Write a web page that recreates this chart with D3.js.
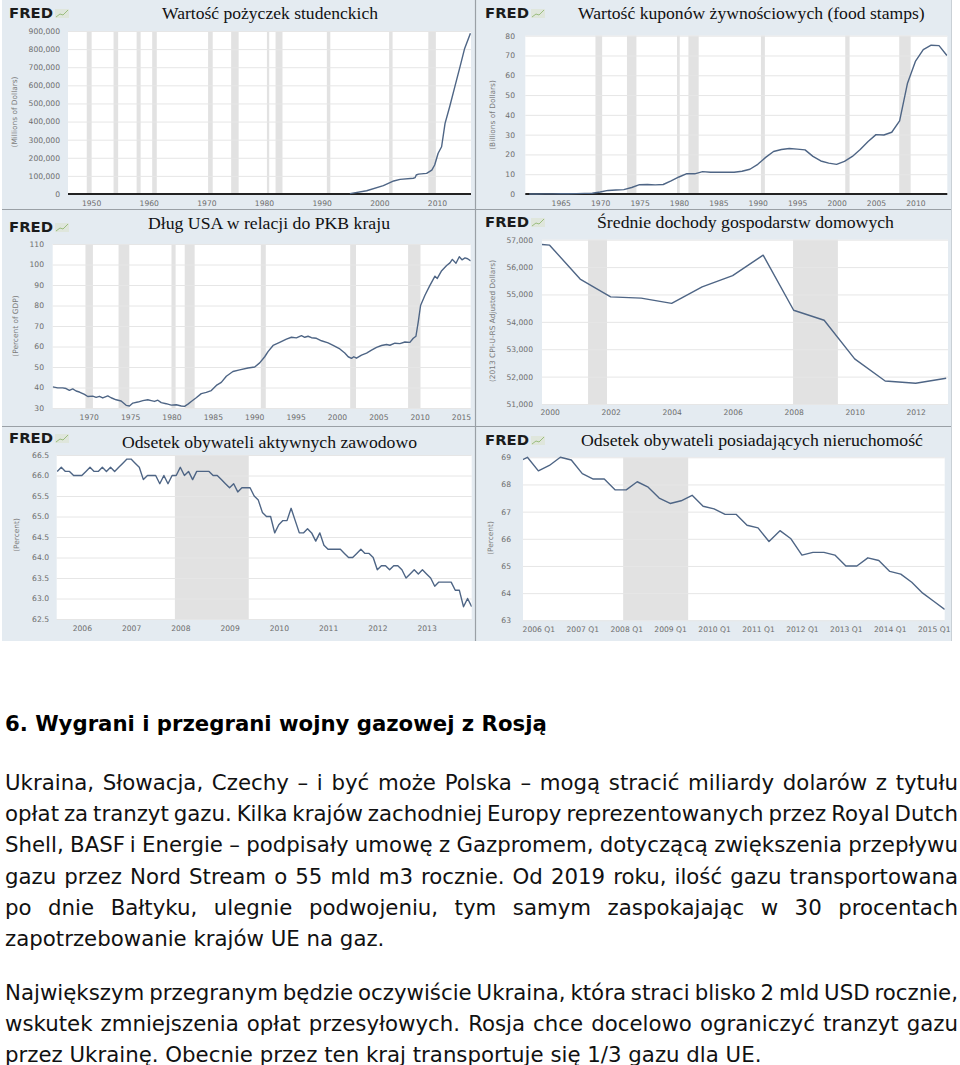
<!DOCTYPE html>
<html><head><meta charset="utf-8">
<script src="https://cdn.jsdelivr.net/npm/d3@7"></script>
<style>html,body{margin:0;padding:0;background:#fff;}svg{display:block;}</style>
</head><body>
<script>
// ---------------- DATA ----------------
const studentLoans = [[1994.9,2000],[1997.8,18000],[2000.7,46000],[2002.5,72000],[2003.6,81000],[2005.9,87000],[2006.2,90000],[2006.4,105000],[2006.8,110000],[2008.2,114000],[2009.1,132000],[2009.6,160000],[2010.2,225000],[2010.8,261000],[2011.4,390000],[2012.2,482000],[2013.1,593000],[2014.0,703000],[2014.8,804000],[2015.8,888000]];
const studentRecessions = [[1949.25,1950.1],[1953.9,1954.7],[1957.9,1958.6],[1960.6,1961.4],[1970.3,1971.1],[1974.3,1975.6],[1980.5,1980.9],[1982.0,1983.2],[1990.9,1991.5],[2001.7,2002.3],[2008.5,2009.8]];
const studentYTicks = [0,100000,200000,300000,400000,500000,600000,700000,800000,900000];
const studentXTicks = [1950,1960,1970,1980,1990,2000,2010];

const foodYears  = [1961,1962,1963,1964,1965,1966,1967,1968,1969,1970,1971,1972,1973,1974,1975,1976,1977,1978,1979,1980,1981,1982,1983,1984,1985,1986,1987,1988,1989,1990,1991,1992,1993,1994,1995,1996,1997,1998,1999,2000,2001,2002,2003,2004,2005,2006,2007,2008,2009,2010,2011,2012,2013,2014];
const foodValues = [0,0,0.05,0.05,0.1,0.1,0.2,0.3,0.4,1.0,1.8,2.0,2.2,3.3,4.7,4.8,4.6,4.8,6.6,8.6,10.3,10.2,11.3,11.0,11.0,11.0,11.0,11.5,12.5,15.0,18.5,21.5,22.5,23.0,22.7,22.3,19.0,16.7,15.6,15.0,16.5,19.0,22.5,26.5,30.0,29.8,31.2,37.0,56.0,67.0,73.0,75.2,75.0,70.0];
const foodRecessions = [[1969.4,1970.25],[1973.4,1974.6],[1979.75,1980.1],[1981.2,1982.5],[1990.4,1990.9],[2001.1,2001.65],[2007.95,2009.4]];
const foodYTicks = [0,10,20,30,40,50,60,70,80];
const foodXTicks = [1965,1970,1975,1980,1985,1990,1995,2000,2005,2010];

const debtGdp = [[1965.64,40.3],[1966.25,39.8],[1966.85,39.8],[1967.26,39.5],[1967.66,38.6],[1968.06,39.3],[1968.47,38.3],[1968.87,37.8],[1969.48,36.6],[1969.88,35.6],[1970.48,35.8],[1970.89,35.2],[1971.29,35.7],[1971.69,34.9],[1972.30,35.9],[1972.70,35.0],[1973.31,34.0],[1973.91,33.4],[1974.52,31.3],[1974.92,31.0],[1975.33,32.4],[1975.93,32.9],[1976.54,33.6],[1977.14,34.0],[1977.55,33.6],[1977.95,33.2],[1978.35,33.8],[1978.76,32.6],[1979.36,32.1],[1979.97,31.4],[1980.57,31.6],[1981.18,31.0],[1981.58,30.8],[1981.99,31.9],[1982.39,33.2],[1982.99,35.0],[1983.60,37.0],[1984.21,37.6],[1984.81,38.5],[1985.42,41.0],[1986.02,42.5],[1986.63,45.5],[1987.43,47.8],[1988.24,48.6],[1989.25,49.5],[1990.06,50.0],[1990.66,52.0],[1991.27,55.0],[1991.67,57.5],[1992.28,60.5],[1993.08,62.0],[1993.89,63.6],[1994.50,64.5],[1995.10,64.2],[1995.71,65.3],[1996.11,64.5],[1996.51,65.0],[1996.92,64.3],[1997.52,64.0],[1998.13,62.8],[1998.93,61.8],[1999.54,60.6],[2000.35,58.8],[2000.95,56.8],[2001.36,55.0],[2001.76,54.2],[2002.04,55.0],[2002.36,54.3],[2002.97,55.8],[2003.58,56.8],[2004.18,58.2],[2004.79,59.6],[2005.39,60.5],[2005.99,61.0],[2006.40,60.6],[2007.01,61.6],[2007.61,61.4],[2008.22,62.2],[2008.82,62.0],[2009.23,64.0],[2009.55,65.0],[2009.83,72.0],[2010.11,80.0],[2010.64,85.0],[2011.24,89.8],[2011.85,94.3],[2012.13,93.2],[2012.66,97.0],[2013.26,99.5],[2013.66,100.8],[2013.95,102.5],[2014.39,100.6],[2014.79,103.8],[2015.12,102.3],[2015.48,103.2],[2015.80,102.8],[2016.17,101.8]];
const debtRecessions = [[1969.6,1970.5],[1973.6,1974.9],[1980.0,1980.5],[1981.6,1982.8],[1990.8,1991.4],[2001.6,2002.3],[2008.6,2010.1]];
const debtYTicks = [30,40,50,60,70,80,90,100,110];
const debtXTicks = [1970,1975,1980,1985,1990,1995,2000,2005,2010,2015];

const incomeYears  = [1999,2000,2001,2002,2003,2004,2005,2006,2007,2008,2009,2010,2011,2012,2013];
const incomeValues = [56895,56800,55562,54913,54865,54674,55278,55689,56436,54423,54059,52646,51842,51759,51939];
const incomeRecessions = [[2001.26,2001.88],[2007.98,2009.45]];
const incomeYTicks = [51000,52000,53000,54000,55000,56000,57000];
const incomeXTicks = [2000,2002,2004,2006,2008,2010,2012];

const lfprStart = 2005.5; // July 2005, monthly
const lfprValues = [66.1,66.2,66.1,66.1,66.0,66.0,
 66.0,66.1,66.2,66.1,66.1,66.2,66.1,66.2,66.1,66.2,66.3,66.4,
 66.4,66.3,66.2,65.9,66.0,66.0,66.0,65.8,66.0,65.8,66.0,66.0,
 66.2,66.0,66.1,65.9,66.1,66.1,66.1,66.1,66.0,66.0,65.9,65.8,
 65.7,65.8,65.6,65.7,65.7,65.7,65.5,65.4,65.1,65.0,65.0,64.6,
 64.8,64.9,64.9,65.2,64.9,64.6,64.6,64.7,64.6,64.4,64.6,64.3,
 64.2,64.2,64.2,64.2,64.1,64.0,64.0,64.1,64.2,64.1,64.1,64.0,
 63.7,63.8,63.8,63.7,63.8,63.8,63.7,63.5,63.6,63.7,63.6,63.7,
 63.6,63.5,63.3,63.4,63.4,63.4,63.4,63.2,63.2,62.8,63.0,62.8];
const lfprRecessions = [[2007.89,2009.39]];
const lfprYTicks = [62.5,63.0,63.5,64.0,64.5,65.0,65.5,66.0,66.5];
const lfprXTicks = [2006,2007,2008,2009,2010,2011,2012,2013];

const homeStart = 2005.5; // 2005 Q3, quarterly
const homeValues = [68.8,69.0, 68.5,68.7,69.0,68.9, 68.4,68.2,68.2,67.8, 67.8,68.1,67.9,67.5, 67.3,67.4,67.6,67.2, 67.1,66.9,66.9,66.5, 66.4,65.9,66.3,66.0, 65.4,65.5,65.5,65.4, 65.0,65.0,65.3,65.2, 64.8,64.7,64.4,64.0, 63.7,63.4];
const homeRecessions = [[2007.93,2009.41]];
const homeYTicks = [63,64,65,66,67,68,69];
const homeXTicks = [2006,2007,2008,2009,2010,2011,2012,2013,2014,2015];

const titles = ["Wartość pożyczek studenckich","Wartość kuponów żywnościowych (food stamps)","Dług USA w relacji do PKB kraju","Średnie dochody gospodarstw domowych","Odsetek obywateli aktywnych zawodowo","Odsetek obywateli posiadających nieruchomość"];
const yTitles = ["(Millions of Dollars)","(Billions of Dollars)","(Percent of GDP)","(2013 CPI-U-RS Adjusted Dollars)","(Percent)","(Percent)"];

const heading = "6. Wygrani i przegrani wojny gazowej z Rosją";
const para1 = ["Ukraina, Słowacja, Czechy – i być może Polska – mogą stracić miliardy dolarów z tytułu",
 "opłat za tranzyt gazu. Kilka krajów zachodniej Europy reprezentowanych przez Royal Dutch",
 "Shell, BASF i Energie – podpisały umowę z Gazpromem, dotyczącą zwiększenia przepływu",
 "gazu przez Nord Stream o 55 mld m3 rocznie. Od 2019 roku, ilość gazu transportowana",
 "po dnie Bałtyku, ulegnie podwojeniu, tym samym zaspokajając w 30 procentach",
 "zapotrzebowanie krajów UE na gaz."];
const para2 = ["Największym przegranym będzie oczywiście Ukraina, która straci blisko 2 mld USD rocznie,",
 "wskutek zmniejszenia opłat przesyłowych. Rosja chce docelowo ograniczyć tranzyt gazu",
 "przez Ukrainę. Obecnie przez ten kraj transportuje się 1/3 gazu dla UE."];

// ---------------- DRAW ----------------
const W = 960, H = 1065;
const svg = d3.select("body").append("svg").attr("width", W).attr("height", H);
svg.append("rect").attr("width", W).attr("height", H).attr("fill", "#fff");

const PANEL_BG = "#e4ebf1", LINE = "#4e6585", REC = "#e2e2e2", GRID = "#e6e6e6", TICK = "#6d6d6d";
svg.append("rect").attr("x", 2).attr("y", 0).attr("width", 950).attr("height", 641).attr("fill", PANEL_BG);
svg.append("line").attr("x1", 475.5).attr("x2", 475.5).attr("y1", 0).attr("y2", 641).attr("stroke", "#9aa0a6").attr("stroke-width", 1.2);
[209.5, 426.5].forEach(y => svg.append("line").attr("x1", 2).attr("x2", 952).attr("y1", y).attr("y2", y).attr("stroke", "#9aa0a6").attr("stroke-width", 1.2));
svg.append("line").attr("x1", 951.5).attr("x2", 951.5).attr("y1", 0).attr("y2", 641).attr("stroke", "#c9d0d6");

const panels = [
 {plot:[68,471,31,194], xd:[1946.0,2015.9], yd:[0,900000], yt:studentYTicks, yf:d3.format(","), xt:studentXTicks, xf:d=>d, rec:studentRecessions,
  data:studentLoans, base:true, title:[162,378,18.5], logo:[9,18], ytl:[15,112], labR:60, xlb:206},
 {plot:[525.3,947.3,35.7,194], xd:[1960.5,2014.05], yd:[0,80], yt:foodYTicks, yf:d3.format("d"), xt:foodXTicks, xf:d=>d, rec:foodRecessions,
  data:foodYears.map((y,i)=>[y,foodValues[i]]), base:true, title:[578,924.7,18.5], logo:[485,18], ytl:[493,115], labR:515, xlb:206},
 {plot:[52.7,470.7,244,408], xd:[1965.64,2016.17], yd:[30,110], yt:debtYTicks, yf:d3.format("d"), xt:debtXTicks, xf:d=>d, rec:debtRecessions,
  data:debtGdp, base:false, title:[148,390,228.5], logo:[9,232], ytl:[16,326], labR:44, xlb:420},
 {plot:[542,948,239.7,404], xd:[1999.75,2013.06], yd:[51000,57000], yt:incomeYTicks, yf:d3.format(","), xt:incomeXTicks, xf:d=>d, rec:incomeRecessions,
  data:incomeYears.map((y,i)=>[y,incomeValues[i]]), base:false, title:[597,894,228], logo:[485,227], ytl:[493,321], labR:533, xlb:415},
 {plot:[56.7,471.7,455,619], xd:[2005.49,2013.917], yd:[62.5,66.5], yt:lfprYTicks, yf:d3.format(".1f"), xt:lfprXTicks, xf:d=>d, rec:lfprRecessions,
  data:lfprValues.map((v,i)=>[lfprStart+i/12,v]), base:false, title:[122,417,448], logo:[9,443], ytl:[17,535], labR:49, xlb:631},
 {plot:[523,944.7,457.3,620.3], xd:[2005.65,2015.25], yd:[63,69], yt:homeYTicks, yf:d3.format("d"), xt:homeXTicks, xf:d=>d+" Q1", rec:homeRecessions,
  data:homeValues.map((v,i)=>[homeStart+i/4,v]), base:false, title:[581,923,445.5], logo:[485,445], ytl:[491,538], labR:511, xlb:632}
];

panels.forEach((p, k) => {
  const [x0, x1, y0, y1] = p.plot;
  const g = svg.append("g");
  const x = d3.scaleLinear().domain(p.xd).range([x0, x1]);
  const y = d3.scaleLinear().domain(p.yd).range([y1, y0]);
  const cid = "clip" + k;
  g.append("clipPath").attr("id", cid).append("rect").attr("x", x0).attr("y", y0 - 2).attr("width", x1 - x0).attr("height", y1 - y0 + 4);
  g.append("rect").attr("x", x0).attr("y", y0).attr("width", x1 - x0).attr("height", y1 - y0).attr("fill", "#fff");
  g.append("g").attr("clip-path", `url(#${cid})`).selectAll("rect").data(p.rec).join("rect")
    .attr("x", d => x(d[0])).attr("width", d => x(d[1]) - x(d[0])).attr("y", y0).attr("height", y1 - y0).attr("fill", REC);
  // grid + y labels
  const yAxis = d3.axisLeft(y).tickValues(p.yt).tickSize(-(x1 - x0)).tickPadding(x0 - p.labR).tickFormat(p.yf);
  const ya = g.append("g").attr("transform", `translate(${x0},0)`).call(yAxis);
  ya.select(".domain").remove();
  ya.selectAll(".tick line").attr("stroke", GRID).attr("stroke-width", 1);
  ya.selectAll(".tick text").attr("fill", TICK).attr("font-family", "DejaVu Sans, Verdana, sans-serif").attr("font-size", 7.6).attr("dx", 0);
  // x labels
  const xAxis = d3.axisBottom(x).tickValues(p.xt).tickSize(0).tickPadding(0).tickFormat(p.xf);
  const xa = g.append("g").attr("transform", `translate(0,${y1})`).call(xAxis);
  xa.select(".domain").remove();
  xa.selectAll(".tick text").attr("fill", TICK).attr("font-family", "DejaVu Sans, Verdana, sans-serif").attr("font-size", 7.6)
    .attr("dy", null).attr("y", p.xlb - y1).attr("dominant-baseline", "auto");
  if (p.base) g.append("line").attr("x1", x0).attr("x2", x1).attr("y1", y(0)).attr("y2", y(0)).attr("stroke", "#222").attr("stroke-width", 1.8);
  // line
  g.append("path").datum(p.data).attr("clip-path", `url(#${cid})`)
    .attr("d", d3.line().x(d => x(d[0])).y(d => y(d[1])))
    .attr("fill", "none").attr("stroke", LINE).attr("stroke-width", 1.4).attr("stroke-linejoin", "round");
  // y title
  g.append("text").attr("transform", `translate(${p.ytl[0]},${p.ytl[1]}) rotate(-90)`).attr("text-anchor", "middle")
    .attr("dominant-baseline", "middle").attr("fill", "#7a7a7a").attr("font-family", "DejaVu Sans, Verdana, sans-serif").attr("font-size", 7.4).text(yTitles[k]);
  // title
  const [tx0, tx1, tb] = p.title;
  g.append("text").attr("x", tx0).attr("y", tb).attr("font-family", "Liberation Serif, Times New Roman, serif").attr("font-size", 17.5)
    .attr("fill", "#111").attr("textLength", tx1 - tx0).attr("lengthAdjust", "spacingAndGlyphs").text(titles[k]);
  // FRED logo
  const [lx, ly] = p.logo;
  g.append("text").attr("x", lx).attr("y", ly).attr("font-family", "DejaVu Sans, sans-serif").attr("font-weight", "bold").attr("font-size", 14.5)
    .attr("fill", "#1b1b1b").attr("textLength", 44).attr("lengthAdjust", "spacingAndGlyphs").text("FRED");
  g.append("rect").attr("x", lx + 46).attr("y", ly - 9).attr("width", 14).attr("height", 9).attr("fill", "#dfe6dc");
  g.append("path").attr("d", `M${lx+47},${ly-1} L${lx+51},${ly-4} L${lx+54},${ly-3} L${lx+59},${ly-8}`).attr("fill", "none").attr("stroke", "#9bbd7f").attr("stroke-width", 1);
});

// ---------------- TEXT ----------------
const FONT = "Verdana, DejaVu Sans, sans-serif";
function measure(str, size, weight) {
  const t = svg.append("text").attr("font-family", FONT).attr("font-size", size).attr("font-weight", weight || "normal").text(str);
  const w = t.node().getComputedTextLength(); t.remove(); return w;
}
const hs = 20 * 542 / measure(heading, 20, "bold");
svg.append("text").attr("x", 5).attr("y", 731).attr("font-family", FONT).attr("font-weight", "bold").attr("font-size", hs).attr("fill", "#000").text(heading);

const fs = 20 * 757 / measure(para2[2], 20);
function drawLine(str, yb, justify) {
  const t = svg.append("text").attr("y", yb).attr("font-family", FONT).attr("font-size", fs).attr("fill", "#111");
  if (!justify) { t.attr("x", 5).text(str); return; }
  const words = str.split(" ");
  const spans = words.map(w => t.append("tspan").text(w));
  const widths = spans.map(s => s.node().getComputedTextLength());
  const total = d3.sum(widths);
  let gap = (953 - total) / (words.length - 1);
  let scale = 1;
  if (gap < fs * 0.2) { scale = (953 - fs * 0.25 * (words.length - 1)) / total; gap = fs * 0.25; }
  let cx = 5;
  spans.forEach((s, i) => { s.attr("x", cx); cx += widths[i] * scale + gap; });
}
const p1y = [790, 821.2, 852.4, 883.6, 914.8, 946];
para1.forEach((l, i) => drawLine(l, p1y[i], i < para1.length - 1));
const p2y = [999.5, 1030.5, 1061.5];
para2.forEach((l, i) => drawLine(l, p2y[i], i < para2.length - 1));
</script>
</body></html>
